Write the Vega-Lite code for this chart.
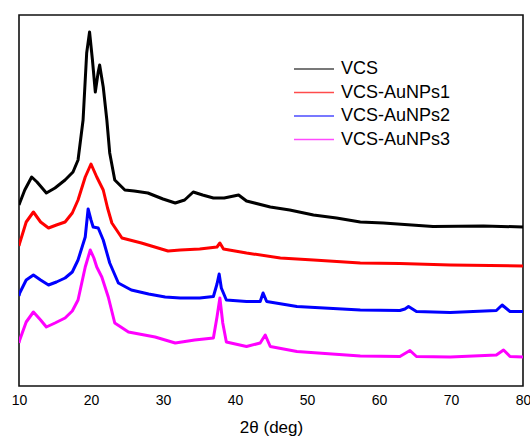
{
  "$schema": "https://vega.github.io/schema/vega-lite/v6.json",
  "autosize": {"type": "none"},
  "padding": {"left": 19, "top": 15, "right": 7, "bottom": 53},
  "width": 504,
  "height": 371,
  "background": "white",
  "config": {
    "view": {"stroke": "#111", "strokeWidth": 1.6},
    "font": "Liberation Sans"
  },
  "datasets": {
    "xrd": [
      {"s":"VCS","t":10.0,"i":181},{"s":"VCS","t":10.1,"i":183},{"s":"VCS","t":10.8,"i":196},{"s":"VCS","t":11.76,"i":209},{"s":"VCS","t":12.5,"i":204},{"s":"VCS","t":13.8,"i":193},{"s":"VCS","t":15.0,"i":198},{"s":"VCS","t":16.4,"i":206},{"s":"VCS","t":17.5,"i":214},{"s":"VCS","t":18.2,"i":226},{"s":"VCS","t":18.9,"i":266},{"s":"VCS","t":19.4,"i":333},{"s":"VCS","t":19.8,"i":354},{"s":"VCS","t":20.2,"i":326},{"s":"VCS","t":20.6,"i":294},{"s":"VCS","t":21.0,"i":314},{"s":"VCS","t":21.2,"i":321},{"s":"VCS","t":21.7,"i":299},{"s":"VCS","t":22.2,"i":266},{"s":"VCS","t":22.6,"i":233},{"s":"VCS","t":23.3,"i":206},{"s":"VCS","t":24.7,"i":196},{"s":"VCS","t":26.0,"i":195},{"s":"VCS","t":27.9,"i":193},{"s":"VCS","t":30.0,"i":187},{"s":"VCS","t":31.7,"i":183},{"s":"VCS","t":33.0,"i":186},{"s":"VCS","t":34.2,"i":194},{"s":"VCS","t":35.5,"i":191},{"s":"VCS","t":37.0,"i":188},{"s":"VCS","t":38.5,"i":188},{"s":"VCS","t":40.5,"i":191},{"s":"VCS","t":41.6,"i":185},{"s":"VCS","t":44.9,"i":179},{"s":"VCS","t":47.6,"i":176},{"s":"VCS","t":50.9,"i":171},{"s":"VCS","t":54.1,"i":168},{"s":"VCS","t":57.4,"i":164},{"s":"VCS","t":60.6,"i":163},{"s":"VCS","t":67.5,"i":159.5},{"s":"VCS","t":74.5,"i":160},{"s":"VCS","t":80.0,"i":159},
      {"s":"VCS-AuNPs1","t":10.0,"i":140},{"s":"VCS-AuNPs1","t":10.1,"i":143},{"s":"VCS-AuNPs1","t":11.0,"i":164},{"s":"VCS-AuNPs1","t":12.0,"i":174},{"s":"VCS-AuNPs1","t":13.0,"i":164},{"s":"VCS-AuNPs1","t":14.1,"i":158},{"s":"VCS-AuNPs1","t":15.2,"i":161},{"s":"VCS-AuNPs1","t":16.4,"i":164},{"s":"VCS-AuNPs1","t":17.4,"i":173},{"s":"VCS-AuNPs1","t":18.2,"i":186},{"s":"VCS-AuNPs1","t":19.2,"i":209},{"s":"VCS-AuNPs1","t":20.0,"i":222},{"s":"VCS-AuNPs1","t":20.8,"i":209},{"s":"VCS-AuNPs1","t":21.7,"i":196},{"s":"VCS-AuNPs1","t":22.3,"i":178},{"s":"VCS-AuNPs1","t":22.9,"i":163},{"s":"VCS-AuNPs1","t":24.3,"i":148},{"s":"VCS-AuNPs1","t":27.0,"i":143},{"s":"VCS-AuNPs1","t":30.7,"i":135},{"s":"VCS-AuNPs1","t":32.4,"i":136},{"s":"VCS-AuNPs1","t":35.1,"i":137},{"s":"VCS-AuNPs1","t":37.5,"i":139},{"s":"VCS-AuNPs1","t":37.9,"i":143},{"s":"VCS-AuNPs1","t":38.4,"i":137},{"s":"VCS-AuNPs1","t":41.6,"i":133},{"s":"VCS-AuNPs1","t":46.3,"i":128},{"s":"VCS-AuNPs1","t":50.9,"i":126},{"s":"VCS-AuNPs1","t":57.4,"i":123},{"s":"VCS-AuNPs1","t":62.9,"i":122.5},{"s":"VCS-AuNPs1","t":69.9,"i":121},{"s":"VCS-AuNPs1","t":80.0,"i":120},
      {"s":"VCS-AuNPs2","t":10.0,"i":90},{"s":"VCS-AuNPs2","t":10.1,"i":93},{"s":"VCS-AuNPs2","t":11.0,"i":106},{"s":"VCS-AuNPs2","t":12.0,"i":111},{"s":"VCS-AuNPs2","t":13.0,"i":106},{"s":"VCS-AuNPs2","t":14.1,"i":101},{"s":"VCS-AuNPs2","t":15.2,"i":104},{"s":"VCS-AuNPs2","t":16.4,"i":108},{"s":"VCS-AuNPs2","t":17.4,"i":114},{"s":"VCS-AuNPs2","t":18.2,"i":126},{"s":"VCS-AuNPs2","t":19.2,"i":149},{"s":"VCS-AuNPs2","t":19.6,"i":177},{"s":"VCS-AuNPs2","t":20.0,"i":166},{"s":"VCS-AuNPs2","t":20.3,"i":159},{"s":"VCS-AuNPs2","t":21.0,"i":158},{"s":"VCS-AuNPs2","t":21.7,"i":146},{"s":"VCS-AuNPs2","t":22.6,"i":123},{"s":"VCS-AuNPs2","t":23.8,"i":103},{"s":"VCS-AuNPs2","t":25.6,"i":96},{"s":"VCS-AuNPs2","t":28.0,"i":92},{"s":"VCS-AuNPs2","t":30.3,"i":89},{"s":"VCS-AuNPs2","t":32.4,"i":88},{"s":"VCS-AuNPs2","t":35.1,"i":88},{"s":"VCS-AuNPs2","t":37.0,"i":89.5},{"s":"VCS-AuNPs2","t":37.5,"i":102},{"s":"VCS-AuNPs2","t":37.8,"i":112},{"s":"VCS-AuNPs2","t":38.1,"i":98},{"s":"VCS-AuNPs2","t":38.8,"i":86},{"s":"VCS-AuNPs2","t":41.6,"i":84.5},{"s":"VCS-AuNPs2","t":43.5,"i":84.5},{"s":"VCS-AuNPs2","t":43.9,"i":93},{"s":"VCS-AuNPs2","t":44.4,"i":84.5},{"s":"VCS-AuNPs2","t":48.6,"i":79.5},{"s":"VCS-AuNPs2","t":57.4,"i":76},{"s":"VCS-AuNPs2","t":62.9,"i":75.5},{"s":"VCS-AuNPs2","t":63.6,"i":77},{"s":"VCS-AuNPs2","t":64.1,"i":79.5},{"s":"VCS-AuNPs2","t":65.2,"i":74.5},{"s":"VCS-AuNPs2","t":69.9,"i":73.5},{"s":"VCS-AuNPs2","t":76.3,"i":75.5},{"s":"VCS-AuNPs2","t":77.1,"i":81},{"s":"VCS-AuNPs2","t":78.2,"i":74.5},{"s":"VCS-AuNPs2","t":80.0,"i":74.5},
      {"s":"VCS-AuNPs3","t":10.0,"i":43},{"s":"VCS-AuNPs3","t":10.1,"i":46},{"s":"VCS-AuNPs3","t":11.0,"i":64},{"s":"VCS-AuNPs3","t":12.0,"i":74},{"s":"VCS-AuNPs3","t":13.0,"i":66},{"s":"VCS-AuNPs3","t":13.8,"i":59},{"s":"VCS-AuNPs3","t":15.0,"i":63},{"s":"VCS-AuNPs3","t":16.4,"i":68},{"s":"VCS-AuNPs3","t":17.4,"i":75},{"s":"VCS-AuNPs3","t":18.2,"i":86},{"s":"VCS-AuNPs3","t":19.2,"i":119},{"s":"VCS-AuNPs3","t":19.9,"i":136},{"s":"VCS-AuNPs3","t":20.4,"i":128},{"s":"VCS-AuNPs3","t":20.8,"i":119},{"s":"VCS-AuNPs3","t":21.5,"i":109},{"s":"VCS-AuNPs3","t":22.4,"i":89},{"s":"VCS-AuNPs3","t":23.3,"i":63},{"s":"VCS-AuNPs3","t":25.2,"i":54},{"s":"VCS-AuNPs3","t":28.9,"i":49},{"s":"VCS-AuNPs3","t":31.7,"i":43},{"s":"VCS-AuNPs3","t":34.4,"i":46},{"s":"VCS-AuNPs3","t":37.0,"i":48},{"s":"VCS-AuNPs3","t":37.5,"i":69},{"s":"VCS-AuNPs3","t":37.9,"i":88},{"s":"VCS-AuNPs3","t":38.3,"i":63},{"s":"VCS-AuNPs3","t":38.8,"i":44},{"s":"VCS-AuNPs3","t":41.6,"i":39.5},{"s":"VCS-AuNPs3","t":43.5,"i":43},{"s":"VCS-AuNPs3","t":44.2,"i":51},{"s":"VCS-AuNPs3","t":44.9,"i":39.5},{"s":"VCS-AuNPs3","t":48.6,"i":34.5},{"s":"VCS-AuNPs3","t":57.4,"i":30},{"s":"VCS-AuNPs3","t":62.9,"i":29.5},{"s":"VCS-AuNPs3","t":64.3,"i":35.5},{"s":"VCS-AuNPs3","t":65.2,"i":29.5},{"s":"VCS-AuNPs3","t":69.9,"i":29},{"s":"VCS-AuNPs3","t":76.3,"i":31},{"s":"VCS-AuNPs3","t":77.3,"i":36},{"s":"VCS-AuNPs3","t":78.2,"i":29.5},{"s":"VCS-AuNPs3","t":80.0,"i":29}
    ]
  },
  "data": {"name": "xrd"},
  "mark": {"type": "line", "strokeWidth": 3, "strokeJoin": "round", "clip": true},
  "encoding": {
    "x": {
      "field": "t", "type": "quantitative",
      "scale": {"domain": [10, 80], "nice": false, "zero": false},
      "axis": {
        "title": "2θ (deg)", "values": [10, 20, 30, 40, 50, 60, 70, 80],
        "grid": false, "ticks": false, "domain": false,
        "labelFontSize": 14, "labelColor": "#000", "labelPadding": 7, "labelFlush": false,
        "titleFontSize": 17, "titleFontWeight": "normal", "titleColor": "#000", "titlePadding": 12
      }
    },
    "y": {
      "field": "i", "type": "quantitative",
      "scale": {"domain": [0, 371], "nice": false, "zero": false},
      "axis": null
    },
    "color": {
      "field": "s", "type": "nominal",
      "scale": {"domain": ["VCS", "VCS-AuNPs1", "VCS-AuNPs2", "VCS-AuNPs3"], "range": ["#000000", "#ff0000", "#0000ff", "#ff00ff"]},
      "legend": {
        "title": null, "orient": "none", "legendX": 284, "legendY": 43,
        "symbolType": "M-2,0H2", "symbolSize": 400, "symbolStrokeWidth": 1.5,
        "labelFontSize": 18, "labelColor": "#000", "labelOffset": 16, "rowPadding": 3.5, "padding": 0,
        "symbolOpacity": 0.7
      }
    }
  }
}
